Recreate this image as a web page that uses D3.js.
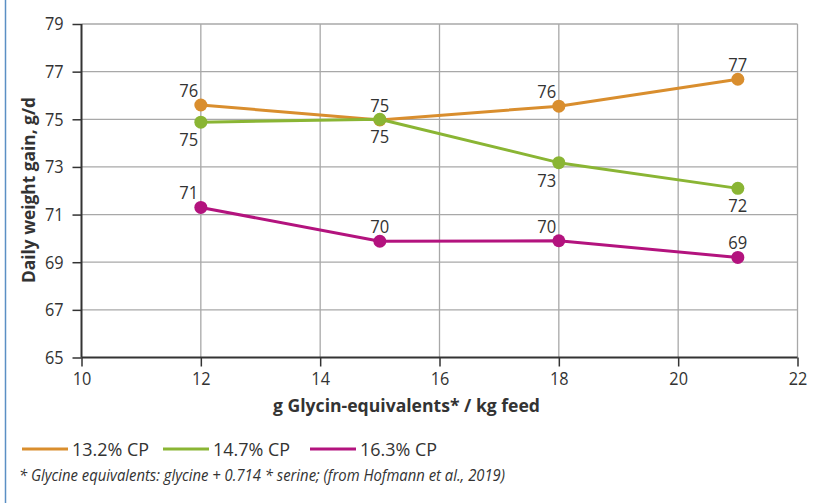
<!DOCTYPE html>
<html><head><meta charset="utf-8">
<script src="https://cdn.jsdelivr.net/npm/d3@7"></script>
<style>
html,body{margin:0;padding:0;background:#fff;}
svg text{font-family:"Open Sans",sans-serif;fill:#333;}
</style></head>
<body><svg id="c" width="815" height="503"></svg>
<script>
const xValues = [12, 15, 18, 21];
const seriesNames = ["13.2% CP", "14.7% CP", "16.3% CP"];
const series132 = [75.6, 74.97, 75.55, 76.68];
const series147 = [74.88, 75.0, 73.18, 72.1];
const series163 = [71.3, 69.88, 69.9, 69.2];
const labels132 = ["76", "75", "76", "77"];
const labels147 = ["75", "75", "73", "72"];
const labels163 = ["71", "70", "70", "69"];
const xTicks = [10, 12, 14, 16, 18, 20, 22];
const yTicks = [65, 67, 69, 71, 73, 75, 77, 79];
const xTitle = "g Glycin-equivalents* / kg feed";
const yTitle = "Daily weight gain, g/d";
const footnote = "* Glycine equivalents: glycine + 0.714 * serine; (from Hofmann et al., 2019)";

const colors = ["#d98e2e", "#8ab534", "#b3137e"];
const labelSide = [-1, 1, -1]; // above / below
const seriesData = [series132, series147, series163];
const seriesLabels = [labels132, labels147, labels163];

function condense(sel, f) {
  sel.each(function () {
    const w = this.getComputedTextLength();
    d3.select(this).attr("textLength", w * f).attr("lengthAdjust", "spacingAndGlyphs");
  });
}

const svg = d3.select("#c");
const M = {l: 81.5, r: 797.5, t: 24, b: 357.5};
const x = d3.scaleLinear().domain([10, 22]).range([M.l, M.r]);
const y = d3.scaleLinear().domain([65, 79]).range([M.b, M.t]);

// left blue frame line
svg.append("line").attr("x1", 5.5).attr("x2", 5.5).attr("y1", 0).attr("y2", 503)
  .attr("stroke", "#5b8fc4").attr("stroke-width", 1.5);

// grid
const g = svg.append("g");
g.selectAll(".vg").data(xTicks.slice(1)).join("line")
  .attr("x1", d => x(d)).attr("x2", d => x(d)).attr("y1", M.t).attr("y2", M.b)
  .attr("stroke", "#a8a8a8").attr("stroke-width", 1.3);
g.selectAll(".hg").data(yTicks.slice(1)).join("line")
  .attr("x1", M.l).attr("x2", M.r).attr("y1", d => y(d)).attr("y2", d => y(d))
  .attr("stroke", "#a8a8a8").attr("stroke-width", 1.3);

// axes
const xAxis = d3.axisBottom(x).tickValues(xTicks).tickSize(9).tickPadding(5).tickFormat(d3.format("d"));
const yAxis = d3.axisLeft(y).tickValues(yTicks).tickSize(9).tickPadding(9).tickFormat(d3.format("d"));
const gx = svg.append("g").attr("transform", `translate(0,${M.b})`).call(xAxis);
const gy = svg.append("g").attr("transform", `translate(${M.l},0)`).call(yAxis);
[gx, gy].forEach(a => {
  a.select(".domain").attr("stroke", "#333").attr("stroke-width", 2);
  a.selectAll(".tick line").attr("stroke", "#333").attr("stroke-width", 1.5);
  a.selectAll(".tick text").attr("font-size", 18.5).attr("fill", "#333")
    .style("font-family", "'Open Sans', sans-serif");
  condense(a.selectAll(".tick text"), 0.88);
});
gx.select(".domain").attr("d", `M${M.l},0H${M.r}`);
gy.select(".domain").attr("d", `M0,${y(65)}V${y(79)}`);

// titles
svg.append("text").attr("x", 406.5).attr("y", 412).attr("text-anchor", "middle")
  .attr("font-size", 18).attr("font-weight", "bold").attr("textLength", 267)
  .attr("lengthAdjust", "spacingAndGlyphs").text(xTitle);
svg.append("text").attr("transform", "translate(34.5,190) rotate(-90)").attr("text-anchor", "middle")
  .attr("font-size", 18).attr("font-weight", "bold").attr("textLength", 186)
  .attr("lengthAdjust", "spacingAndGlyphs").text(yTitle);

// series
const line = d3.line().x((d, i) => x(xValues[i])).y(d => y(d));
const labelDx = [-12, 0, -12, 0];
seriesData.forEach((vals, s) => {
  svg.append("path").datum(vals).attr("d", line).attr("fill", "none")
    .attr("stroke", colors[s]).attr("stroke-width", 3).attr("stroke-linejoin", "round");
  svg.selectAll(null).data(vals).join("circle")
    .attr("cx", (d, i) => x(xValues[i])).attr("cy", d => y(d)).attr("r", 6.5)
    .attr("fill", colors[s]);
  const t = svg.selectAll(null).data(vals).join("text")
    .attr("x", (d, i) => x(xValues[i]) + labelDx[i])
    .attr("y", d => y(d) + (labelSide[s] < 0 ? -8 : 24))
    .attr("text-anchor", "middle").attr("font-size", 18)
    .text((d, i) => seriesLabels[s][i]);
  condense(t, 0.92);
});

// legend
const leg = svg.append("g");
const legX = [22, 163, 310];
seriesNames.forEach((n, i) => {
  leg.append("line").attr("x1", legX[i]).attr("x2", legX[i] + 46).attr("y1", 449).attr("y2", 449)
    .attr("stroke", colors[i]).attr("stroke-width", 3);
  leg.append("text").attr("x", legX[i] + 50).attr("y", 455.5).attr("font-size", 18)
    .attr("textLength", 77).attr("lengthAdjust", "spacingAndGlyphs").text(n);
});

svg.append("text").attr("x", 19).attr("y", 480.5).attr("font-size", 15.5).attr("font-style", "italic")
  .attr("textLength", 486).attr("lengthAdjust", "spacingAndGlyphs").text(footnote);
</script></body></html>
